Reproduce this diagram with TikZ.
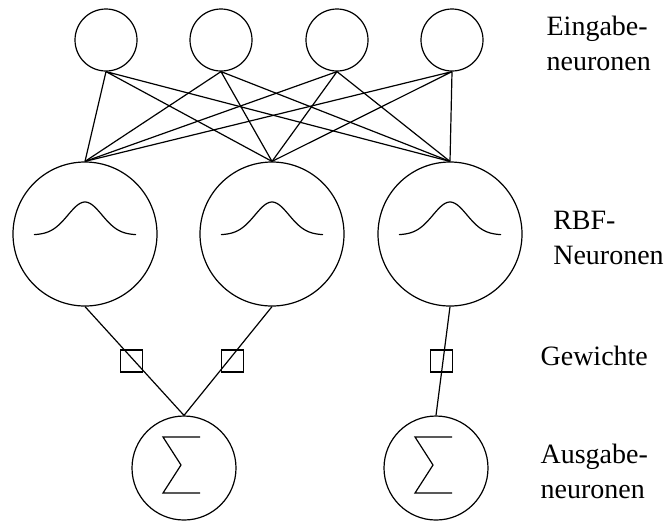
\documentclass[tikz,border=0pt]{standalone}
\usepackage{fontspec}
\setmainfont{Liberation Serif}

\begin{document}
\begin{tikzpicture}[
  x=0.5pt, y=-0.5pt,
  line width=0.6pt,
  inneuron/.style={circle, draw, minimum size=31pt, inner sep=0pt},
  rbfneuron/.style={circle, draw, minimum size=72pt, inner sep=0pt},
  outneuron/.style={circle, draw, minimum size=52pt, inner sep=0pt},
  weight/.style={rectangle, draw, minimum size=11pt, inner sep=0pt},
  layer/.style={font=\fontsize{14}{17.5}\selectfont, align=left, anchor=base west, inner sep=0pt}
]
  \useasboundingbox (0,0) rectangle (667,521);

  % Eingabeschicht
  \node[inneuron] (in1) at (106,40) {};
  \node[inneuron] (in2) at (221,40) {};
  \node[inneuron] (in3) at (337,40) {};
  \node[inneuron] (in4) at (452,40) {};

  % RBF-Schicht
  \node[rbfneuron] (rbf1) at (85,234) {};
  \node[rbfneuron] (rbf2) at (272,234) {};
  \node[rbfneuron] (rbf3) at (450,234) {};

  % Ausgabeschicht
  \node[outneuron] (out1) at (184,468) {};
  \node[outneuron] (out2) at (436,468) {};

  % Gewichte
  \node[weight] (w1) at (131.7,361) {};
  \node[weight] (w2) at (232.5,361) {};
  \node[weight] (w3) at (441.5,361) {};

  % Beschriftung (Basislinie der letzten Zeile)
  \node[layer] (lin) at (546,70) {Eingabe-\\neuronen};
  \node[layer] (lrbf) at (552.7,264) {RBF-\\Neuronen};
  \node[layer] (lw) at (540,365) {Gewichte};
  \node[layer] (lout) at (540,498.3) {Ausgabe-\\neuronen};

  % Verbindungen
  \draw (in1.south) -- (rbf1.north) (in1.south) -- (rbf2.north) (in1.south) -- (rbf3.north);
  \draw (in2.south) -- (rbf1.north) (in2.south) -- (rbf2.north) (in2.south) -- (rbf3.north);
  \draw (in3.south) -- (rbf1.north) (in3.south) -- (rbf2.north) (in3.south) -- (rbf3.north);
  \draw (in4.south) -- (rbf1.north) (in4.south) -- (rbf2.north) (in4.south) -- (rbf3.north);
  \draw (rbf1.south) -- (out1.north);
  \draw (rbf2.south) -- (out1.north);
  \draw (rbf3.south) -- (out2.north);

  % Gausskurven
  \draw[shift={(rbf1.center)}] plot[domain=-51:51, samples=50, smooth] (\x, {1-33*exp(-(\x)*(\x)/578)});
  \draw[shift={(rbf2.center)}] plot[domain=-51:51, samples=50, smooth] (\x, {1-33*exp(-(\x)*(\x)/578)});
  \draw[shift={(rbf3.center)}] plot[domain=-51:51, samples=50, smooth] (\x, {1-33*exp(-(\x)*(\x)/578)});

  % Summenzeichen
  \draw[shift={(out1.center)}] (16,-31) -- (-21,-31) -- (-3,-3) -- (-21,25) -- (16,25);
  \draw[shift={(out2.center)}] (16,-31) -- (-21,-31) -- (-3,-3) -- (-21,25) -- (16,25);
\end{tikzpicture}
\end{document}
